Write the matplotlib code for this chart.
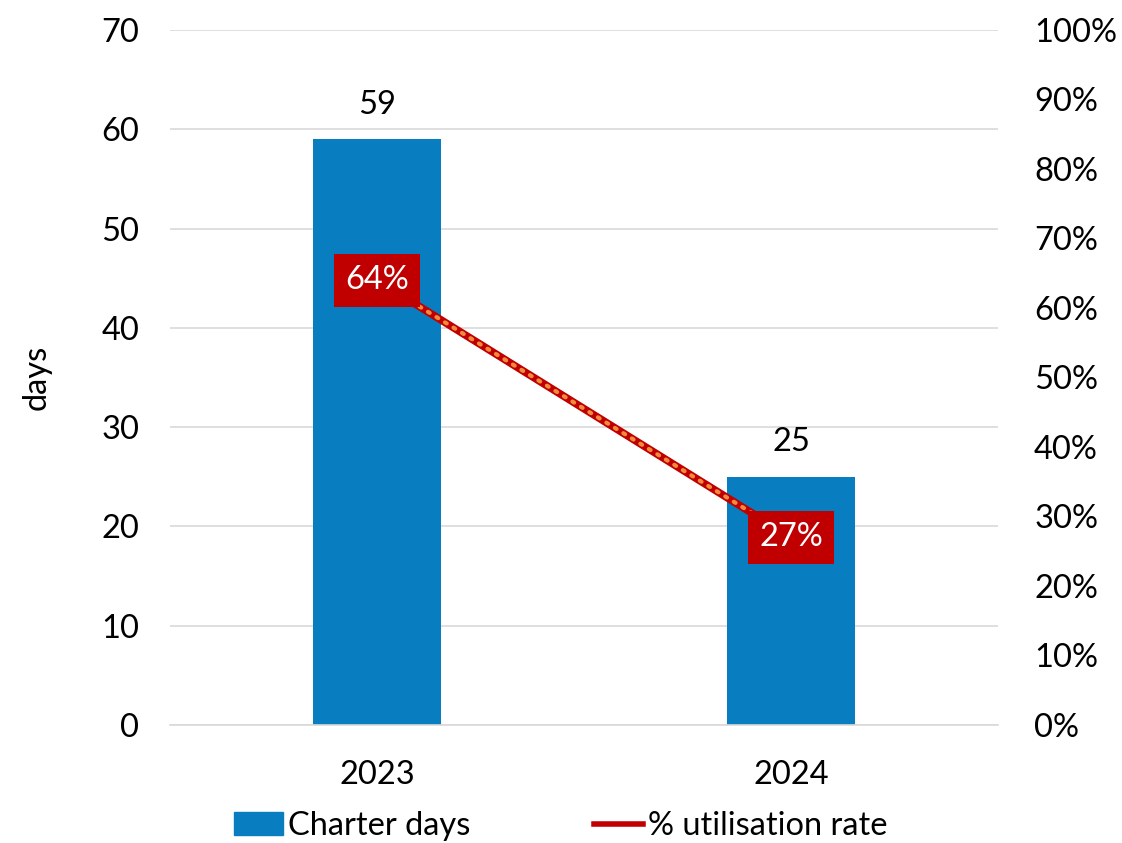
import matplotlib
matplotlib.use("Agg")
import matplotlib.pyplot as plt
from matplotlib.lines import Line2D
from matplotlib.patches import Patch
from matplotlib.ticker import FuncFormatter

years = ["2023", "2024"]
charter_days = [59, 25]
utilisation = [0.64, 0.27]

plt.rcParams['font.family'] = ['Lato', 'DejaVu Sans']

BLUE = "#087DBF"
RED = "#C00000"
ORANGE = "#F08A3C"
GRID = "#D9D9D9"
FS = 23.5

fig = plt.figure(figsize=(11.22, 8.43), dpi=100)
ax = fig.add_axes([0.1515, 0.140, 0.738, 0.8245])
x = list(range(len(years)))
ax.bar(x, charter_days, width=0.31, color=BLUE, zorder=2)
ax.set_xlim(-0.5, 1.5)
ax.set_ylim(0, 70)
ax.set_yticks(range(0, 71, 10))
ax.set_xticks(x)
ax.set_xticklabels(years)
ax.grid(axis='y', color=GRID, linewidth=1.2, zorder=0)
for s in ["top", "right", "left"]:
    ax.spines[s].set_visible(False)
ax.spines["bottom"].set_color(GRID)
ax.spines["bottom"].set_linewidth(1.2)
ax.tick_params(axis='y', length=0, labelsize=FS, pad=22)
ax.tick_params(axis='x', length=0, labelsize=FS, pad=25)
ax.set_ylabel("days", fontsize=FS, labelpad=36)
for xi, v in zip(x, charter_days):
    ax.annotate(str(v), (xi, v), xytext=(0, 14), textcoords="offset points",
                ha="center", va="bottom", fontsize=FS)

ax2 = ax.twinx()
ax2.set_ylim(0, 1)
ax2.set_yticks([i / 10 for i in range(11)])
ax2.yaxis.set_major_formatter(FuncFormatter(lambda v, p: f"{v*100:.0f}%"))
for s in ["top", "right", "left", "bottom"]:
    ax2.spines[s].set_visible(False)
ax2.tick_params(axis='y', length=0, labelsize=FS, pad=26)
ax2.plot(x, utilisation, color=RED, linewidth=5.5, zorder=3)
ax2.plot(x, utilisation, color=ORANGE, linewidth=3, linestyle=(0, (0.5, 1.9)),
         dash_capstyle='round', zorder=4)
for xi, v in zip(x, utilisation):
    ax2.text(xi, v, f"{v*100:.0f}%", ha="center", va="center", fontsize=FS,
             color="white", zorder=5,
             bbox=dict(boxstyle="square,pad=0.35", fc=RED, ec="none"))

handles = [Patch(color=BLUE, label="Charter days"),
           Line2D([0], [0], color=RED, linewidth=4, label="% utilisation rate")]
fig.legend(handles=handles, loc="center", bbox_to_anchor=(0.5, 0.02), ncol=2,
           frameon=False, fontsize=FS, handlelength=1.5, handletextpad=0.15,
           columnspacing=3.8)

fig.savefig("out.png", dpi=100)
